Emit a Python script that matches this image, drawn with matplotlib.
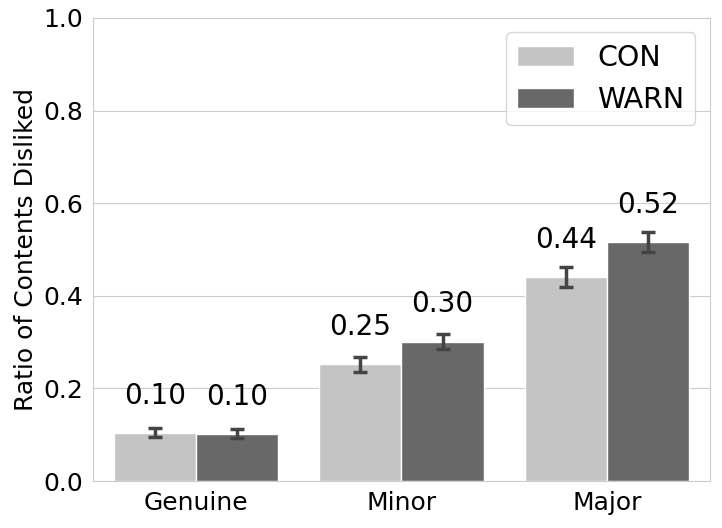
import matplotlib
matplotlib.use("Agg")
import matplotlib.pyplot as plt, numpy as np, seaborn as sns

categories = ["Genuine", "Minor", "Major"]
con_vals = [0.104, 0.252, 0.441]
warn_vals = [0.102, 0.301, 0.516]
con_err = [0.010, 0.016, 0.022]
warn_err = [0.010, 0.016, 0.021]
groups = ["CON", "WARN"]

sns.set_style("whitegrid")
plt.rcParams['font.family'] = ['DejaVu Sans']
plt.rcParams['text.color'] = 'black'
plt.rcParams['axes.labelcolor'] = 'black'
plt.rcParams['xtick.color'] = 'black'
plt.rcParams['ytick.color'] = 'black'

fig, ax = plt.subplots(figsize=(7.22, 5.28), dpi=100)
x = np.arange(len(categories))
w = 0.4
colors = ["#c4c4c4", "#686868"]
for i, (vals, errs) in enumerate([(con_vals, con_err), (warn_vals, warn_err)]):
    pos = x - w/2 + i*w
    ax.bar(pos, vals, width=w, color=colors[i], edgecolor="white", linewidth=1, label=groups[i], zorder=2)
    ax.errorbar(pos, vals, yerr=errs, fmt="none", ecolor="#444444", elinewidth=2.5, capsize=5, capthick=2.5, zorder=3)
    for p, v in zip(pos, vals):
        ax.text(p, v + 0.05, "%.2f" % v, ha="center", va="bottom", fontsize=20)

ax.set_xticks(x)
ax.set_xticklabels(categories)
ax.set_xlim(-0.5, 2.5)
ax.set_ylim(0, 1.0)
ax.set_yticks(np.arange(0, 1.01, 0.2))
ax.tick_params(labelsize=18)
ax.set_ylabel("Ratio of Contents Disliked", fontsize=18)
ax.grid(axis="x", visible=False)
ax.legend(loc="upper right", fontsize=20.5)
for s in ax.spines.values():
    s.set_color("#cccccc")
fig.subplots_adjust(left=0.129, right=0.983, top=0.966, bottom=0.089)
fig.savefig("out.png", dpi=100)
